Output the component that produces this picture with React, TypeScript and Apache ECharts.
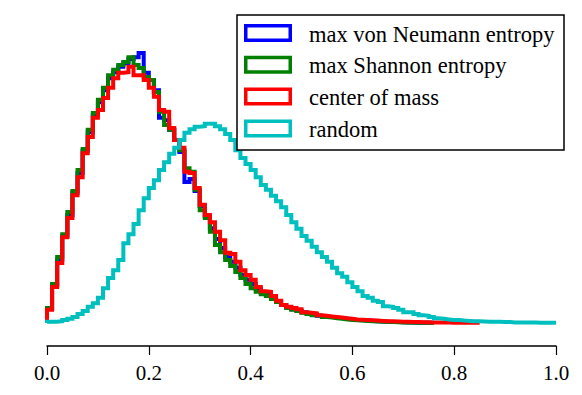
import React, { useEffect, useRef } from "react";
import * as echarts from "echarts";

const seriesNames = ["max von Neumann entropy", "max Shannon entropy", "center of mass", "random"];
const seriesColors = ["#0000ff", "#008000", "#ff0000", "#00bfbf"];
const xTicks = [0, 0.2, 0.4, 0.6, 0.8, 1.0];
const binWidth = 0.01;

const vonNeumann = [
  0.24, 0.63, 1.05, 1.45, 1.80, 2.17, 2.50, 2.87, 3.18, 3.47,
  3.68, 3.88, 4.08, 4.18, 4.27, 4.33, 4.40, 4.43, 4.50, 4.17,
  4.05, 3.88, 3.42, 3.38, 3.22, 3.05, 2.85, 2.35, 2.40, 2.20,
  1.95, 1.78, 1.58, 1.40, 1.25, 1.10, 1.02, 0.92, 0.80, 0.72,
  0.65, 0.57, 0.50, 0.48, 0.42, 0.36, 0.30, 0.26, 0.23, 0.21,
  0.18, 0.16, 0.14, 0.12, 0.11, 0.10, 0.09, 0.08, 0.07, 0.06,
  0.05, 0.045, 0.04, 0.035, 0.03, 0.025, 0.02, 0.018, 0.015, 0.012,
  0.01, 0.008, 0.006, 0.005, 0.004, 0.003,
];

const shannon = [
  0.25, 0.65, 1.10, 1.48, 1.85, 2.20, 2.55, 2.90, 3.22, 3.50,
  3.72, 3.92, 4.13, 4.22, 4.30, 4.35, 4.43, 4.30, 4.25, 4.10,
  4.05, 3.85, 3.52, 3.30, 3.22, 3.05, 2.88, 2.58, 2.52, 2.22,
  1.88, 1.75, 1.52, 1.30, 1.18, 1.05, 0.95, 0.85, 0.75, 0.65,
  0.58, 0.52, 0.48, 0.45, 0.40, 0.35, 0.30, 0.25, 0.22, 0.20,
  0.17, 0.15, 0.13, 0.12, 0.10, 0.09, 0.08, 0.07, 0.06, 0.05,
  0.045, 0.04, 0.035, 0.03, 0.025, 0.02, 0.02, 0.015, 0.012, 0.01,
  0.008, 0.006, 0.005, 0.004, 0.003, 0.002,
];

const centerOfMass = [
  0.22, 0.60, 1.00, 1.43, 1.75, 2.13, 2.43, 2.83, 3.10, 3.42,
  3.55, 3.75, 3.92, 4.08, 4.17, 4.18, 4.27, 4.13, 4.13, 4.05,
  3.92, 3.77, 3.55, 3.52, 3.25, 3.05, 2.92, 2.52, 2.50, 2.25,
  1.97, 1.80, 1.68, 1.52, 1.38, 1.17, 1.15, 1.02, 0.88, 0.80,
  0.72, 0.60, 0.53, 0.52, 0.45, 0.37, 0.30, 0.27, 0.25, 0.23,
  0.18, 0.17, 0.16, 0.13, 0.12, 0.11, 0.10, 0.09, 0.08, 0.07,
  0.06, 0.055, 0.05, 0.045, 0.04, 0.035, 0.03, 0.03, 0.025, 0.02,
  0.02, 0.018, 0.015, 0.013, 0.012, 0.01, 0.01, 0.008, 0.007, 0.006,
  0.005, 0.005, 0.004, 0.003, 0.003,
];

const randomState = [
  0.02, 0.02, 0.03, 0.05, 0.07, 0.10, 0.15, 0.20, 0.27, 0.33,
  0.42, 0.58, 0.75, 0.88, 1.05, 1.33, 1.48, 1.65, 1.88, 2.08,
  2.25, 2.38, 2.55, 2.68, 2.82, 2.92, 3.05, 3.17, 3.23, 3.27,
  3.28, 3.32, 3.32, 3.28, 3.23, 3.15, 3.05, 2.88, 2.75, 2.65,
  2.55, 2.43, 2.30, 2.22, 2.12, 2.03, 1.93, 1.80, 1.68, 1.57,
  1.45, 1.37, 1.27, 1.18, 1.10, 1.02, 0.92, 0.83, 0.77, 0.68,
  0.60, 0.53, 0.45, 0.42, 0.37, 0.35, 0.28, 0.27, 0.25, 0.22,
  0.18, 0.18, 0.15, 0.13, 0.12, 0.10, 0.08, 0.07, 0.06, 0.05,
  0.05, 0.04, 0.035, 0.03, 0.03, 0.025, 0.02, 0.02, 0.02, 0.015,
  0.015, 0.01, 0.01, 0.01, 0.01, 0.008, 0.006, 0.005, 0.004, 0.003,
];

const allValues = [vonNeumann, shannon, centerOfMass, randomState];

function stepData(vals: number[]): number[][] {
  const n = vals.length;
  const pts: number[][] = [[0, 0]];
  vals.forEach((v, i) => pts.push([i * binWidth, v]));
  pts.push([n * binWidth, vals[n - 1]]);
  pts.push([n * binWidth, 0]);
  return pts;
}

const FONT = "Liberation Serif, Times New Roman, serif";

export default function App() {
  const ref = useRef<HTMLDivElement>(null);
  useEffect(() => {
    if (!ref.current) return;
    const chart = echarts.init(ref.current, undefined, { renderer: "svg" });

    const legendEls: any[] = [
      {
        type: "rect",
        shape: { x: 237, y: 15, width: 327, height: 135 },
        style: { fill: "#ffffff", stroke: "#000000", lineWidth: 1.5 },
        z: 100,
      },
    ];
    seriesNames.forEach((name, i) => {
      const cy = 33 + i * 31.8;
      legendEls.push({
        type: "rect",
        shape: { x: 245.75, y: cy - 7.25, width: 44.5, height: 14.5 },
        style: { fill: "none", stroke: seriesColors[i], lineWidth: 3.5 },
        z: 101,
      });
      legendEls.push({
        type: "text",
        x: 309,
        y: cy + 1,
        style: {
          text: name,
          fill: "#000000",
          fontFamily: FONT,
          fontSize: 22.5,
          verticalAlign: "middle",
          align: "left",
        },
        z: 101,
      });
    });

    chart.setOption({
      animation: false,
      backgroundColor: "#ffffff",
      grid: { left: 47, right: 26, top: 23, bottom: 72 },
      xAxis: {
        type: "value",
        min: 0,
        max: 1,
        interval: 0.2,
        offset: 23,
        splitLine: { show: false },
        axisLine: { show: true, onZero: false, lineStyle: { color: "#000000", width: 1.5 } },
        axisTick: { show: true, inside: false, length: 9, lineStyle: { color: "#000000", width: 1.2 } },
        axisLabel: {
          color: "#000000",
          fontFamily: FONT,
          fontSize: 21,
          margin: 16,
          formatter: (v: number) => v.toFixed(1),
        },
      },
      yAxis: { type: "value", min: 0, max: 5, show: false },
      series: allValues.map((vals, i) => ({
        type: "line",
        name: seriesNames[i],
        step: "end",
        data: stepData(vals),
        showSymbol: false,
        symbol: "none",
        clip: false,
        color: seriesColors[i],
        lineStyle: { color: seriesColors[i], width: 4, join: "miter", cap: "butt" },
        z: 2 + i,
      })),
      graphic: legendEls,
    });
    return () => chart.dispose();
  }, []);
  return <div ref={ref} style={{ position: "fixed", left: 0, top: 0, width: 582, height: 395 }} />;
}
